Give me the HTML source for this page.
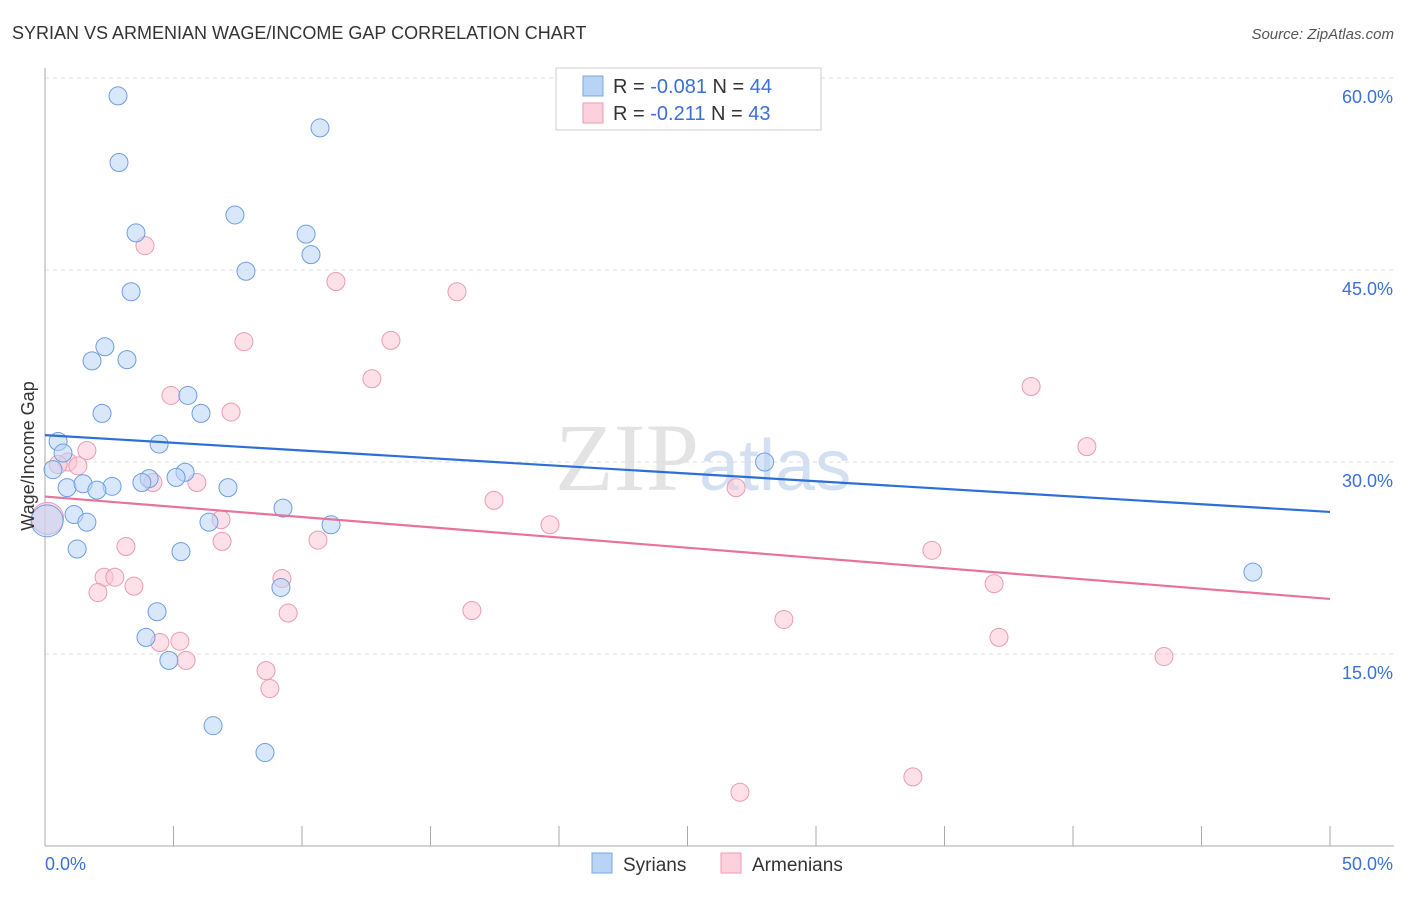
<!DOCTYPE html>
<html><head><meta charset="utf-8"><style>
body{margin:0;background:#fff;font-family:"Liberation Sans",sans-serif}
</style></head><body>
<svg id="chart" width="1406" height="892" xmlns="http://www.w3.org/2000/svg" font-family="Liberation Sans, sans-serif">
<text x="12" y="39" font-size="18" fill="#333">SYRIAN VS ARMENIAN WAGE/INCOME GAP CORRELATION CHART</text>
<text x="1394" y="39" font-size="15" fill="#555" font-style="italic" text-anchor="end">Source: ZipAtlas.com</text>
<text x="555" y="490" font-size="96" fill="#ddd" font-family="Liberation Serif, serif" opacity="0.8">ZIP<tspan fill="#c9d9ef" font-family="Liberation Sans, sans-serif" font-size="72">atlas</tspan></text>
<g id="grid"></g>
<g id="axes"></g>
<g id="marks"></g>
<text transform="translate(34,456) rotate(-90)" font-size="18" fill="#333" text-anchor="middle">Wage/Income Gap</text>
<g>
<rect x="556" y="68" width="265" height="62" fill="#fff" stroke="#ccc"/>
<rect x="583" y="76" width="20" height="20" fill="#b9d3f5" stroke="#7aa6e0"/>
<rect x="583" y="103" width="20" height="20" fill="#fcd0dc" stroke="#eb9bb3"/>
<text x="613" y="93" font-size="20" fill="#333">R = <tspan fill="#3a6fd8">-0.081</tspan>   N = <tspan fill="#3a6fd8">44</tspan></text>
<text x="613" y="120" font-size="20" fill="#333">R =  <tspan fill="#3a6fd8">-0.211</tspan>   N = <tspan fill="#3a6fd8">43</tspan></text>
</g>
<g>
<rect x="592" y="853" width="20" height="20" fill="#b9d3f5" stroke="#7aa6e0"/>
<text x="623" y="871" font-size="19" fill="#333">Syrians</text>
<rect x="721" y="853" width="20" height="20" fill="#fcd0dc" stroke="#eb9bb3"/>
<text x="752" y="871" font-size="19" fill="#333">Armenians</text>
</g>
</svg>
<script>
const yTicks=[15,30,45,60];
const yTickLabels=["15.0%","30.0%","45.0%","60.0%"];
const xTickLabels=["0.0%","50.0%"];
const syrX=[2.84,10.7,2.88,7.39,3.54,10.16,10.35,7.82,3.35,2.33,1.83,3.19,5.56,2.22,6.07,0.51,4.44,0.70,0.31,5.45,5.10,4.05,0.86,1.48,2.61,2.02,3.77,7.12,1.13,1.63,6.38,9.26,11.13,1.25,5.29,9.18,4.36,3.93,4.82,6.54,8.56,28.0,47.0,0.08];
const syrY=[58.6,56.1,53.4,49.3,47.9,47.8,46.2,44.9,43.3,39.0,37.9,38.0,35.2,33.8,33.8,31.6,31.4,30.7,29.4,29.2,28.8,28.7,28.0,28.3,28.1,27.8,28.4,28.0,25.9,25.3,25.3,26.4,25.1,23.2,23.0,20.2,18.3,16.3,14.5,9.4,7.3,30.0,21.4,25.4];
const armX=[3.89,11.32,16.03,7.74,13.46,12.72,4.90,7.24,38.37,40.54,1.63,0.89,1.28,0.51,4.20,5.91,17.47,6.85,19.65,6.89,3.15,10.62,34.51,2.30,2.72,3.46,2.06,9.22,9.46,16.61,36.93,28.75,4.47,5.25,37.12,5.49,8.60,8.75,43.54,33.77,27.04,26.89,0.1];
const armY=[46.9,44.1,43.3,39.4,39.5,36.5,35.2,33.9,35.9,31.2,30.9,30.0,29.7,29.8,28.4,28.4,27.0,25.5,25.1,23.8,23.4,23.9,23.1,21.0,21.0,20.3,19.8,20.9,18.2,18.4,20.5,17.7,15.9,16.0,16.3,14.5,13.7,12.3,14.8,5.4,4.2,28.0,25.6];
const syrTrend=[32.1,26.1];
const armTrend=[27.3,19.3];
const NS="http://www.w3.org/2000/svg";
const X0=45,X1=1330,Y0=846,Y60=78;
const xs=v=>X0+v/50*(X1-X0);
const ys=v=>Y0-v/60*(Y0-Y60);
function mk(t,a,p){const e=document.createElementNS(NS,t);for(const k in a)e.setAttribute(k,a[k]);p.appendChild(e);return e;}
const grid=document.getElementById('grid'),axes=document.getElementById('axes'),marks=document.getElementById('marks');
yTicks.forEach((t,i)=>{
 const l=mk('line',{x1:X0,x2:1394,y1:ys(t),y2:ys(t),stroke:'#ddd','stroke-dasharray':'4,4'},grid);
 
 
 const tx=mk('text',{x:1393,y:ys(t)+25,'font-size':18,fill:'#3a6fd8','text-anchor':'end'},axes);
 tx.textContent=yTickLabels[i];
 
 
});
const ax=mk('line',{x1:X0,x2:X0,y1:68,y2:Y0,stroke:'#aaa'},axes);


const bx=mk('line',{x1:X0,x2:1394,y1:Y0,y2:Y0,stroke:'#aaa'},axes);


for(let i=0;i<=10;i++){const x=xs(i*5);const t=mk('line',{x1:x,x2:x,y1:826,y2:Y0,stroke:'#aaa'},axes);
 
 }
xTickLabels.forEach((s,i)=>{const t=mk('text',{x:i?1393:45,y:870,'font-size':18,fill:'#3a6fd8','text-anchor':i?'end':'start'},axes);t.textContent=s;
 
 });
function pts(X,Y,fill,stroke,name){X.forEach((v,i)=>{const big=i===X.length-1&&v<0.2;
 const c=mk('circle',{cx:xs(v),cy:ys(Y[i]),r:big?16:9,fill:fill,'fill-opacity':0.55,stroke:stroke,'stroke-width':1},marks);
 
 });}
pts(armX,armY,'#fbc6d5','#eb9bb3','armenian-point');
pts(syrX,syrY,'#b9d3f5','#6d9ee0','syrian-point');
const l1=mk('line',{x1:xs(0),y1:ys(syrTrend[0]),x2:xs(50),y2:ys(syrTrend[1]),stroke:'#2c6fd6','stroke-width':2.2},marks);


const l2=mk('line',{x1:xs(0),y1:ys(armTrend[0]),x2:xs(50),y2:ys(armTrend[1]),stroke:'#e7739b','stroke-width':2.2},marks);


</script>
</body></html>
